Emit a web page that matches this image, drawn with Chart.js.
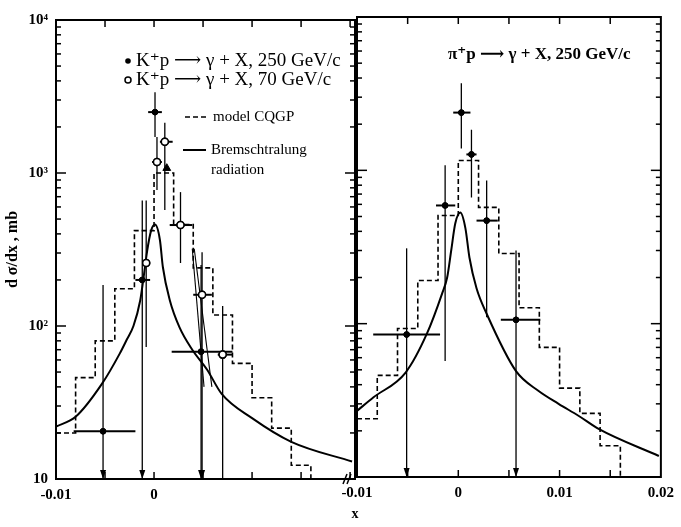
<!DOCTYPE html>
<html>
<head>
<meta charset="utf-8">
<script src="https://cdn.jsdelivr.net/npm/chart.js@4.4.1/dist/chart.umd.min.js"></script>
<style>
  html, body { margin: 0; padding: 0; background: #fff; }
  #wrap { position: relative; width: 681px; height: 527px; overflow: hidden; }
  canvas { position: absolute; top: 0; }
  #left { left: 0; }
  #right { left: 330px; }
</style>
</head>
<body>
<div id="wrap">
  <canvas id="left" width="370" height="527"></canvas>
  <canvas id="right" width="351" height="527"></canvas>
</div>
<script>
/* ========================================
   Data
   ======================================== */
const yDecades = [10, 100, 1000, 10000];
const yTickLabels = ['10', '10²', '10³', '10⁴'];
const xTickVals = [-0.01, -0.005, 0, 0.005, 0.01, 0.015, 0.02];
const leftXLabelVals = [-0.01, 0];
const leftXLabels = ['-0.01', '0'];
const rightXLabelVals = [-0.01, 0, 0.01, 0.02];
const rightXLabels = ['-0.01', '0', '0.01', '0.02'];

// model CQGP histograms (bins of 0.002)
const binEdges = [-0.010, -0.008, -0.006, -0.004, -0.002, 0, 0.002, 0.004, 0.006, 0.008, 0.010, 0.012, 0.014, 0.016];
const kModel  = [20, 46, 80, 175, 420, 1000, 460, 240, 118, 57, 34, 21.5, 12.3];
const piModel = [24, 46, 93, 191, 508, 1160, 573, 287, 127, 70, 38, 26, 16];

// Bremsstrahlung radiation curves
const kBremX = [-0.0100, -0.0080, -0.0053, -0.0035, -0.0028, -0.0021, -0.0014, -0.0011, -0.0007, -0.0003, 0.0001, 0.0006, 0.0009, 0.0016, 0.0026, 0.0039, 0.0054, 0.0069, 0.0100, 0.0140, 0.0202];
const kBremY = [22, 25.5, 42, 66, 81, 100, 148, 200, 310, 420, 460, 365, 243, 148, 98, 70, 52, 36, 25, 17.5, 13];
const piBremX = [-0.0100, -0.0084, -0.0052, -0.0031, -0.0016, -0.0011, -0.0007, -0.0003, 0.0002, 0.0007, 0.0011, 0.0018, 0.0028, 0.0057, 0.0079, 0.0099, 0.0119, 0.0139, 0.0198];
const piBremY = [27, 33, 48, 86, 157, 200, 300, 450, 530, 420, 270, 170, 116, 49, 36.5, 30, 25, 20.5, 13.7];

// steep thin lines through the 70 GeV/c points
const kSteepAX = [0.0039, 0.0051];
const kSteepAY = [320, 40];
const kSteepBX = [0.0041, 0.0059];
const kSteepBY = [320, 40];

// K+p -> gamma + X, 250 GeV/c (filled)
const k250X   = [-0.0052, -0.0012, 0.0001, 0.0048];
const k250Y   = [20.5, 200, 2500, 68];
const k250XLo = [-0.0082, -0.0019, -0.0006, 0.0018];
const k250XHi = [-0.0019, -0.0004, 0.0008, 0.0080];
const k250YLo = [10, 10, 1720, 10];
const k250YHi = [185, 660, 3370, 250];
const k250Arrow = [1, 1, 0, 1];
const kTriX = [0.0013];
const kTriY = [1075];

// K+p -> gamma + X, 70 GeV/c (open)
const k70X   = [-0.0008, 0.0003, 0.0011, 0.0027, 0.0049, 0.0070];
const k70Y   = [258, 1180, 1600, 457, 160, 65];
const k70XLo = [-0.0008, -0.0002, 0.0006, 0.0016, 0.0040, 0.0065];
const k70XHi = [-0.0008, 0.0008, 0.0019, 0.0039, 0.0059, 0.0080];
const k70YLo = [73, 775, 573, 258, 10, 10];
const k70YHi = [660, 1720, 2130, 750, 303, 135];
const k70Arrow = [0, 0, 0, 0, 1, 0];

// pi+p -> gamma + X, 250 GeV/c (filled)
const pi250X   = [-0.0051, -0.0013, 0.0003, 0.0013, 0.0028, 0.0057];
const pi250Y   = [85, 590, 2380, 1270, 470, 106];
const pi250XLo = [-0.0084, -0.0022, -0.0005, 0.0008, 0.0018, 0.0042];
const pi250XHi = [-0.0018, -0.0003, 0.0012, 0.0018, 0.0039, 0.0081];
const pi250YLo = [10, 57, 1390, 665, 110, 10];
const pi250YHi = [310, 1080, 3700, 1840, 860, 300];
const pi250Arrow = [1, 0, 0, 0, 0, 1];

/* ========================================
   Helpers
   ======================================== */
const serif = "'Liberation Serif', 'DejaVu Serif', serif";
const yMin = 10, yMax = 10000;

const xy = (xs, ys) => xs.map((x, i) => ({ x, y: ys[i] }));
function stepData(edges, vals) {
    const pts = vals.map((v, i) => ({ x: edges[i], y: v }));
    const last = edges[edges.length - 1];
    pts.push({ x: last, y: vals[vals.length - 1] });
    pts.push({ x: last, y: yMin });
    return pts;
}
const near = (a, b) => Math.abs(a - b) < 1e-9;

// all log ticks 1..9 x decade
const yTickVals = [];
yDecades.slice(0, 3).forEach(d => { for (let m = 1; m <= 9; m++) yTickVals.push(m * d); });
yTickVals.push(yMax);

function line(ctx, x0, y0, x1, y1) {
    ctx.beginPath(); ctx.moveTo(x0, y0); ctx.lineTo(x1, y1); ctx.stroke();
}

// frame + inward ticks on all four sides
const frameTicks = {
    id: 'frameTicks',
    afterDraw(chart) {
        const { ctx, chartArea: a, scales: { x, y } } = chart;
        ctx.save();
        ctx.strokeStyle = '#000';
        ctx.lineWidth = 2;
        ctx.strokeRect(a.left, a.top, a.right - a.left, a.bottom - a.top);
        ctx.lineWidth = 1.5;
        yTickVals.forEach(v => {
            const py = y.getPixelForValue(v);
            const len = yDecades.some(d => near(d, v)) ? 10 : 5;
            line(ctx, a.left, py, a.left + len, py);
            line(ctx, a.right, py, a.right - len, py);
        });
        xTickVals.forEach(v => {
            const px = x.getPixelForValue(v);
            if (px > a.right - 3 || px < a.left + 3) return;
            line(ctx, px, a.bottom, px, a.bottom - 7);
            line(ctx, px, a.top, px, a.top + 7);
        });
        ctx.restore();
    }
};

// error bars, then the markers again on top of them
const errorBars = {
    id: 'errorBars',
    afterDatasetsDraw(chart) {
        const { ctx, scales: { x, y } } = chart;
        ctx.save();
        ctx.strokeStyle = '#000';
        ctx.fillStyle = '#000';
        chart.data.datasets.forEach(ds => {
            if (!ds.errs) return;
            const e = ds.errs;
            ds.data.forEach((p, i) => {
                const px = x.getPixelForValue(p.x), py = y.getPixelForValue(p.y);
                const x0 = x.getPixelForValue(e.xLo[i]), x1 = x.getPixelForValue(e.xHi[i]);
                const y0 = y.getPixelForValue(e.yLo[i]), y1 = y.getPixelForValue(e.yHi[i]);
                ctx.lineWidth = 1.3;
                line(ctx, px, y1, px, y0);
                ctx.lineWidth = 2;
                if (x1 - x0 > 1) line(ctx, x0, py, x1, py);
                if (e.arrow[i]) {
                    ctx.beginPath();
                    ctx.moveTo(px - 3, y0 - 9); ctx.lineTo(px + 3, y0 - 9); ctx.lineTo(px, y0);
                    ctx.closePath(); ctx.fill();
                }
            });
        });
        ctx.restore();
        chart.data.datasets.forEach((ds, di) => {
            if (!ds.errs) return;
            chart.getDatasetMeta(di).data.forEach(pt => pt.draw(ctx, chart.chartArea));
        });
    }
};

const leftNotes = {
    id: 'leftNotes',
    afterDraw(chart) {
        const { ctx, chartArea: a } = chart;
        ctx.save();
        ctx.fillStyle = '#000'; ctx.strokeStyle = '#000';
        ctx.textBaseline = 'middle';
        ctx.font = `19px ${serif}`;
        ctx.beginPath(); ctx.arc(128, 61, 2.8, 0, Math.PI * 2); ctx.fill();
        ctx.fillText('K⁺p ⟶ γ + X, 250 GeV/c', 136, 61);
        ctx.lineWidth = 1.5;
        ctx.beginPath(); ctx.arc(128, 80, 3, 0, Math.PI * 2); ctx.stroke();
        ctx.fillText('K⁺p ⟶ γ + X, 70 GeV/c', 136, 80);
        ctx.font = `15px ${serif}`;
        ctx.setLineDash([5, 3]); ctx.lineWidth = 1.6;
        line(ctx, 185, 117, 208, 117);
        ctx.setLineDash([]);
        ctx.fillText('model CQGP', 213, 117);
        ctx.lineWidth = 2;
        line(ctx, 183, 150, 206, 150);
        ctx.fillText('Bremschtralung', 211, 150);
        ctx.fillText('radiation', 211, 170);
        // axis break
        ctx.lineWidth = 1.5;
        line(ctx, a.right - 12, a.bottom + 5, a.right - 8, a.bottom - 5);
        line(ctx, a.right - 8, a.bottom + 5, a.right - 4, a.bottom - 5);
        // x axis title, between the panels
        ctx.font = `bold 14px ${serif}`;
        ctx.textAlign = 'center';
        ctx.fillText('x', a.right, 514);
        ctx.restore();
    }
};

const rightNotes = {
    id: 'rightNotes',
    afterDraw(chart) {
        const { ctx } = chart;
        ctx.save();
        ctx.fillStyle = '#000';
        ctx.textBaseline = 'middle';
        ctx.font = `bold 17px ${serif}`;
        ctx.fillText('π⁺p ⟶ γ + X, 250 GeV/c', 118, 55);
        ctx.restore();
    }
};

function xScale(labelVals, labels, h) {
    return {
        type: 'linear', min: -0.01, max: 0.02,
        afterFit: s => { s.height = h; },
        grid: { display: false, drawTicks: false }, border: { display: false },
        ticks: {
            stepSize: 0.005, autoSkip: false, maxRotation: 0, padding: 7, color: '#000',
            font: { family: serif, weight: 'bold', size: 15 },
            callback: v => { const i = labelVals.findIndex(l => near(l, v)); return i < 0 ? '' : labels[i]; }
        }
    };
}

function commonOptions(padding, xs, ys) {
    return {
        responsive: false, animation: false, events: [],
        layout: { padding },
        plugins: { legend: { display: false }, tooltip: { enabled: false } },
        scales: { x: xs, y: ys }
    };
}

const filledStyle = { pointStyle: 'circle', pointRadius: 2.8, backgroundColor: '#000', borderColor: '#000', borderWidth: 1 };
const openStyle = { pointStyle: 'circle', pointRadius: 3.5, backgroundColor: '#fff', borderColor: '#000', borderWidth: 1.5 };
const curveStyle = { type: 'line', showLine: true, borderColor: '#000', borderWidth: 2, pointRadius: 0, cubicInterpolationMode: 'monotone', fill: false };
const thinStyle = { type: 'line', showLine: true, borderColor: '#000', borderWidth: 1.1, pointRadius: 0, fill: false };
const histStyle = { type: 'line', showLine: true, stepped: 'before', borderColor: '#000', borderWidth: 1.6, borderDash: [5, 3], pointRadius: 0, fill: false };

/* ========================================
   Left panel: K+p
   ======================================== */
new Chart(document.getElementById('left'), {
    type: 'scatter',
    data: {
        datasets: [
            { label: 'K+p 250 GeV/c', data: xy(k250X, k250Y), ...filledStyle,
              errs: { xLo: k250XLo, xHi: k250XHi, yLo: k250YLo, yHi: k250YHi, arrow: k250Arrow } },
            { label: 'K+p 70 GeV/c', data: xy(k70X, k70Y), ...openStyle,
              errs: { xLo: k70XLo, xHi: k70XHi, yLo: k70YLo, yHi: k70YHi, arrow: k70Arrow } },
            { label: 'triangle', data: xy(kTriX, kTriY), pointStyle: 'triangle', pointRadius: 4.5, backgroundColor: '#000', borderColor: '#000' },
            { label: 'Bremschtralung radiation', data: xy(kBremX, kBremY), ...curveStyle },
            { label: 'steep A', data: xy(kSteepAX, kSteepAY), ...thinStyle },
            { label: 'steep B', data: xy(kSteepBX, kSteepBY), ...thinStyle },
            { label: 'model CQGP', data: stepData(binEdges, kModel), ...histStyle }
        ]
    },
    options: commonOptions({ left: 0, right: 15, top: 20, bottom: 0 },
        { ...xScale(leftXLabelVals, leftXLabels, 48), max: 0.0205 },
        {
            type: 'logarithmic', min: yMin, max: yMax,
            afterFit: s => { s.width = 56; },
            grid: { display: false, drawTicks: false }, border: { display: false },
            title: { display: true, text: 'd σ/dx , mb', color: '#000', padding: 3,
                     font: { family: serif, weight: 'bold', size: 16 } },
            ticks: {
                autoSkip: false, padding: 8, color: '#000',
                font: { family: serif, weight: 'bold', size: 15 },
                callback: v => { const i = yDecades.findIndex(d => near(d, v)); return i < 0 ? '' : yTickLabels[i]; }
            }
        }),
    plugins: [frameTicks, errorBars, leftNotes]
});

/* ========================================
   Right panel: pi+p
   ======================================== */
new Chart(document.getElementById('right'), {
    type: 'scatter',
    data: {
        datasets: [
            { label: 'pi+p 250 GeV/c', data: xy(pi250X, pi250Y), ...filledStyle,
              errs: { xLo: pi250XLo, xHi: pi250XHi, yLo: pi250YLo, yHi: pi250YHi, arrow: pi250Arrow } },
            { label: 'Bremschtralung radiation', data: xy(piBremX, piBremY), ...curveStyle },
            { label: 'model CQGP', data: stepData(binEdges, piModel), ...histStyle }
        ]
    },
    options: commonOptions({ left: 0, right: 20, top: 17, bottom: 0 },
        xScale(rightXLabelVals, rightXLabels, 50),
        {
            type: 'logarithmic', min: yMin, max: yMax,
            afterFit: s => { s.width = 27; },
            grid: { display: false, drawTicks: false }, border: { display: false },
            ticks: { display: false }
        }),
    plugins: [frameTicks, errorBars, rightNotes]
});
</script>
</body>
</html>
